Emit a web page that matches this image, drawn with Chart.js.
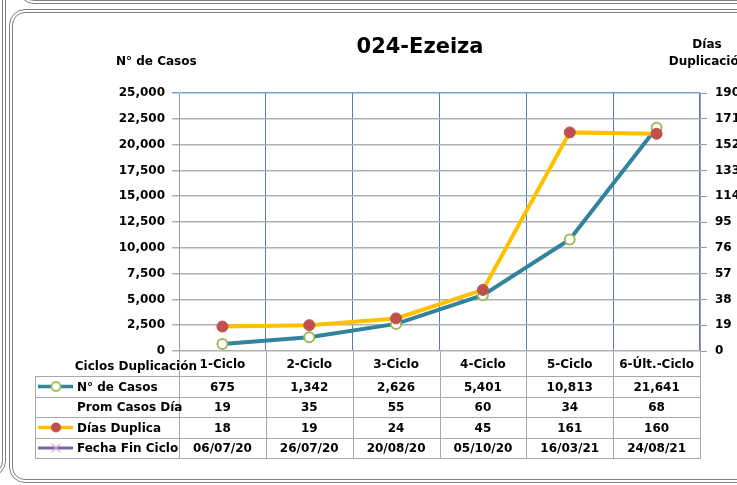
<!DOCTYPE html>
<html lang="es">
  <head>
    <meta charset="utf-8">
    <script src="https://cdn.jsdelivr.net/npm/chart.js"></script>
    <title>024-Ezeiza</title>
    <style>
      body { margin: 0; background: #fff; }
      #wrap { position: relative; width: 737px; height: 485px; overflow: hidden; }
      canvas { position: absolute; left: 0; top: 0; }
      .frame { position: absolute; border: 4px double #7f7f7f; border-radius: 16px; pointer-events: none; }
    </style>
  </head>
  <body>
    <div id="wrap">
      <canvas id="chart" width="737" height="485"></canvas>
      <div class="frame" style="left:9px; top:9px; width:760px; height:466px;"></div>
      <div class="frame" style="left:-100px; top:-20px; width:98px; height:489px;"></div>
      <div class="frame" style="left:18px; top:-100px; width:800px; height:96px;"></div>
    </div>
  </body>
  <script>
    // data
    const categories = ['1-Ciclo', '2-Ciclo', '3-Ciclo', '4-Ciclo', '5-Ciclo', '6-Últ.-Ciclo'];
    const casos = [675, 1342, 2626, 5401, 10813, 21641];
    const promCasosDia = [19, 35, 55, 60, 34, 68];
    const diasDuplica = [18, 19, 24, 45, 161, 160];
    const fechaFinCiclo = ['06/07/20', '26/07/20', '20/08/20', '05/10/20', '16/03/21', '24/08/21'];
    const rowNames = ['N° de Casos', 'Prom Casos Día', 'Días Duplica', 'Fecha Fin Ciclo'];

    const FONT = '"DejaVu Sans", Verdana, sans-serif';
    const fmt = n => n.toLocaleString('en-US');

    // extra texts + data table under the plot
    const tablePlugin = {
      id: 'tabla',
      afterDraw(chart) {
        const c = chart.ctx;
        const x = chart.scales.x;
        const area = chart.chartArea;
        const half = (x.getPixelForValue(1) - x.getPixelForValue(0)) / 2;
        const left = 35, right = area.right + 1;
        const rowsY = [376, 397, 417, 438, 458];
        c.save();
        // titles
        c.fillStyle = '#000';
        c.textBaseline = 'middle';
        c.font = 'bold 21px ' + FONT;
        c.textAlign = 'center';
        c.fillText('024-Ezeiza', 420, 48);
        c.font = 'bold 12px ' + FONT;
        c.textAlign = 'left';
        c.fillText('N° de Casos', 116, 62);
        c.textAlign = 'center';
        c.fillText('Días', 707, 45);
        c.fillText('Duplicación', 708, 62);
        c.textAlign = 'right';
        c.fillText('Ciclos Duplicación', 197, 367);

        // table lines
        c.strokeStyle = '#a9a9a9';
        c.lineWidth = 1;
        c.beginPath();
        rowsY.forEach(y => { c.moveTo(left, y + 0.5); c.lineTo(right, y + 0.5); });
        c.moveTo(left + 0.5, rowsY[0]); c.lineTo(left + 0.5, rowsY[4]);
        for (let i = 0; i <= categories.length; i++) {
          const px = Math.round(x.getPixelForValue(i) - half) + 0.5;
          c.moveTo(px, area.bottom); c.lineTo(px, rowsY[4]);
        }
        c.stroke();

        // values
        const rows = [casos.map(fmt), promCasosDia, diasDuplica, fechaFinCiclo];
        c.textAlign = 'center';
        rows.forEach((r, j) => {
          const cy = (rowsY[j] + rowsY[j + 1]) / 2 + 1;
          r.forEach((v, i) => c.fillText(String(v), x.getPixelForValue(i), cy));
        });
        c.textAlign = 'left';
        rowNames.forEach((n, j) => c.fillText(n, 77, (rowsY[j] + rowsY[j + 1]) / 2 + 1));

        // legend keys
        const key = (j, col, w) => {
          const cy = (rowsY[j] + rowsY[j + 1]) / 2;
          c.strokeStyle = col; c.lineWidth = w;
          c.beginPath(); c.moveTo(38, cy); c.lineTo(73, cy); c.stroke();
          return cy;
        };
        let cy = key(0, '#31849b', 3.5);
        c.fillStyle = '#fff'; c.strokeStyle = '#9bbb59'; c.lineWidth = 1.8;
        c.beginPath(); c.arc(56, cy, 4.5, 0, Math.PI * 2); c.fill(); c.stroke();
        cy = key(2, '#ffc000', 3.5);
        c.fillStyle = '#c0504d';
        c.beginPath(); c.arc(56, cy, 5, 0, Math.PI * 2); c.fill();
        cy = key(3, '#8064a2', 3);
        c.strokeStyle = '#c3b5d8'; c.lineWidth = 1.3;
        c.beginPath();
        c.moveTo(52, cy - 4); c.lineTo(60, cy + 4);
        c.moveTo(60, cy - 4); c.lineTo(52, cy + 4);
        c.stroke();
        c.restore();
      }
    };

    new Chart(document.getElementById('chart'), {
      type: 'line',
      data: {
        labels: categories,
        datasets: [{
          label: 'N° de Casos',
          data: casos,
          yAxisID: 'y',
          order: 2,
          borderColor: '#31849b',
          borderWidth: 4,
          pointRadius: 5,
          pointBackgroundColor: '#fff',
          pointBorderColor: '#9bbb59',
          pointBorderWidth: 2
        }, {
          label: 'Días Duplica',
          data: diasDuplica,
          yAxisID: 'y2',
          order: 1,
          borderColor: '#ffc000',
          borderWidth: 4,
          pointRadius: 5.5,
          pointBackgroundColor: '#c0504d',
          pointBorderColor: '#c0504d',
          pointBorderWidth: 1
        }]
      },
      options: {
        responsive: false,
        animation: false,
        layout: { padding: { top: 93, left: 0, right: 0, bottom: 0 } },
        plugins: { legend: { display: false }, tooltip: { enabled: false } },
        scales: {
          x: {
            offset: true,
            afterFit: s => { s.height = 134; },
            border: { display: false },
            grid: {
              offset: true,
              drawTicks: false,
              color: ctx => (ctx.index === 0 || ctx.index === categories.length) ? 'rgba(0,0,0,0)' : '#5a7db0',
              lineWidth: 1
            },
            ticks: { color: '#000', padding: 7, font: { family: FONT, size: 12, weight: 'bold' } }
          },
          y: {
            position: 'left',
            min: 0, max: 25000,
            afterFit: s => { s.width = 179; },
            border: { color: '#9a9a9a', width: 1 },
            grid: {
              color: ctx => ctx.tick && ctx.tick.value === 25000 ? '#7f9fcb' : '#b0b0b0',
              lineWidth: 1.5,
              tickLength: 7
            },
            ticks: {
              stepSize: 2500, padding: 7, color: '#000',
              font: { family: FONT, size: 12, weight: 'bold' },
              callback: v => fmt(v)
            }
          },
          y2: {
            position: 'right',
            min: 0, max: 190,
            afterFit: s => { s.width = 37; },
            border: { color: '#9a9a9a', width: 1 },
            grid: { drawOnChartArea: false, color: '#9a9a9a', tickLength: 7 },
            ticks: {
              stepSize: 19, padding: 8, color: '#000',
              font: { family: FONT, size: 12, weight: 'bold' }
            }
          }
        }
      },
      plugins: [tablePlugin]
    });
  </script>
</html>
